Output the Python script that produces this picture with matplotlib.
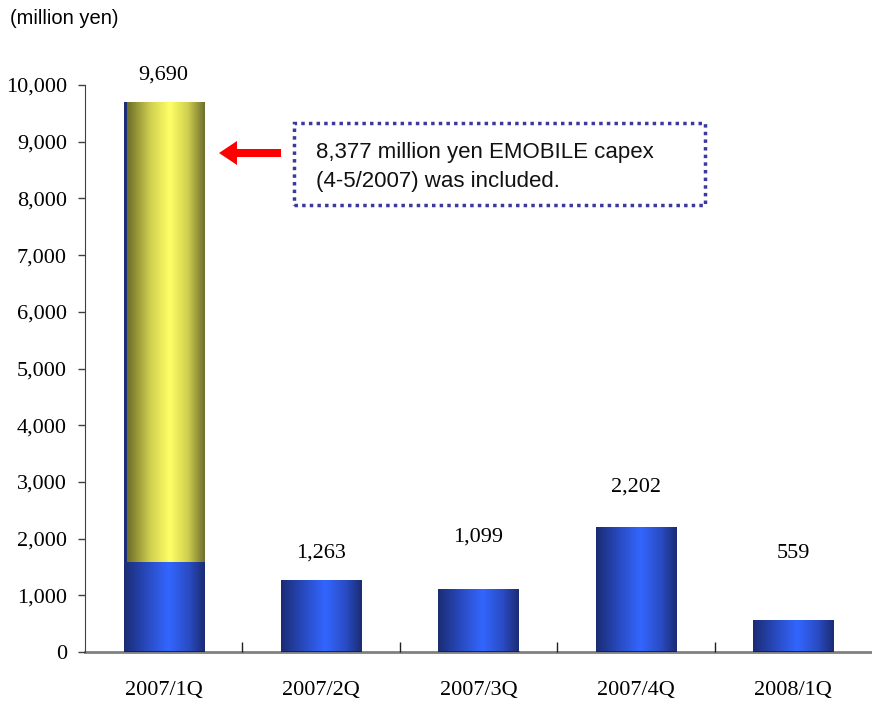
"""Quarterly capex bars with the EMOBILE share highlighted in the first quarter."""

import matplotlib
matplotlib.use("Agg")
import matplotlib.pyplot as plt
import numpy as np
from matplotlib.colors import LinearSegmentedColormap
from matplotlib.patches import FancyArrow, Rectangle
from matplotlib.ticker import FixedLocator, FuncFormatter

QUARTERS = ["2007/1Q", "2007/2Q", "2007/3Q", "2007/4Q", "2008/1Q"]
CAPEX = [9690, 1263, 1099, 2202, 559]
# portion of the first bar that sits below the EMOBILE highlight
HIGHLIGHT_BASE = 1590
# how far each value label's centre floats above its bar, in points
LABEL_OFFSETS = [20, 20, 38, 29, 48]

NOTE = "8,377 million yen EMOBILE capex\n(4-5/2007) was included."
SERIF = "Liberation Serif"
SANS = "Liberation Sans"

BLUE = LinearSegmentedColormap.from_list(
    "blue_bar", [(0.0, "#1b2c74"), (0.25, "#2747b8"), (0.55, "#3366ff"),
                 (0.8, "#2a4cc4"), (1.0, "#1b2c74")])
YELLOW = LinearSegmentedColormap.from_list(
    "yellow_bar", [(0.0, "#6c6c28"), (0.3, "#d0d050"), (0.55, "#ffff66"),
                   (0.78, "#d0d050"), (1.0, "#6e6e2e")])
GRADIENT = np.linspace(0, 1, 256).reshape(1, -1)
BAR_WIDTH = 0.51


def gradient_bar(ax, x, bottom, top, cmap, width=BAR_WIDTH, shift=0.0):
    x0 = x - width / 2 + shift
    x1 = x + width / 2
    ax.imshow(GRADIENT, extent=[x0, x1, bottom, top], aspect="auto",
              cmap=cmap, interpolation="bicubic", zorder=2)


def main():
    fig = plt.figure(figsize=(8.72, 7.06), dpi=100)
    ax = fig.add_axes([85 / 872, 54 / 706, 787 / 872, 567 / 706])

    xs = np.arange(len(QUARTERS))
    for x, value in zip(xs, CAPEX):
        gradient_bar(ax, x, 0, value, BLUE)
        ax.plot([x - BAR_WIDTH / 2, x + BAR_WIDTH / 2], [0, 0],
                color="#10204f", lw=2, zorder=3, solid_capstyle="butt")

    # EMOBILE share laid over the first bar, leaving a thin blue edge
    gradient_bar(ax, xs[0], HIGHLIGHT_BASE, CAPEX[0], YELLOW, shift=0.019)

    for x, value, off in zip(xs, CAPEX, LABEL_OFFSETS):
        ax.annotate(f"{value:,}", (x, value), xytext=(0, off),
                    textcoords="offset points", ha="center", va="center",
                    fontsize=16, family=SERIF)

    ax.set_xlim(-0.5, len(QUARTERS) - 0.5)
    ax.set_ylim(0, 10000)
    ax.set_xticks(xs)
    ax.set_xticklabels(QUARTERS, fontsize=16, family=SERIF)
    ax.xaxis.set_minor_locator(FixedLocator(xs[:-1] + 0.5))
    ax.tick_params(axis="x", which="major", length=0, pad=21)
    ax.tick_params(axis="x", which="minor", direction="in", length=7,
                   width=1, color="#202020")

    ax.yaxis.set_major_locator(FixedLocator(np.arange(0, 10001, 1000)))
    ax.yaxis.set_major_formatter(FuncFormatter(lambda v, _: f"{int(v):,}"))
    ax.tick_params(axis="y", direction="out", length=5, width=1,
                   color="#404040", pad=8)
    for label in ax.get_yticklabels():
        label.set_fontsize(16)
        label.set_family(SERIF)

    ax.spines[["top", "right"]].set_visible(False)
    ax.spines["left"].set_color("#404040")
    ax.spines["bottom"].set_color("#808080")
    ax.spines["bottom"].set_linewidth(2)
    ax.spines["bottom"].set_zorder(1)

    fig.text(10 / 872, 1 - 18 / 706, "(million yen)", fontsize=14.5,
             family=SANS, va="center", ha="left")

    # dotted note box and red arrow pointing at the first bar
    fig.patches.append(Rectangle((294 / 872, 1 - 205 / 706), 411 / 872, 82 / 706,
                                 transform=fig.transFigure, fill=False,
                                 edgecolor="#3a3a9c", lw=2.5, ls=(0, (1, 1.2))))
    fig.text(316 / 872, 1 - 167 / 706, NOTE, fontsize=16, family=SANS,
             va="center", ha="left", linespacing=1.45, color="#111111")
    fig.patches.append(FancyArrow(281 / 872, 1 - 153 / 706, -44 / 872, 0,
                                  width=8 / 706, head_width=24 / 706,
                                  head_length=18 / 872, length_includes_head=False,
                                  transform=fig.transFigure, color="#ff0000", lw=0))

    fig.savefig("out.png", dpi=100, facecolor="white")


if __name__ == "__main__":
    main()
